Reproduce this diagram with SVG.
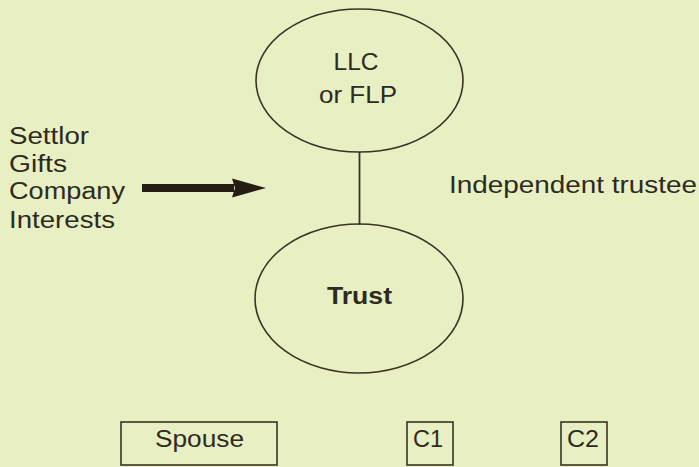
<svg xmlns="http://www.w3.org/2000/svg" width="699" height="467" viewBox="0 0 699 467">
  <defs>
    <style>
      .bg { fill: #e7efc3; }
      .shape { fill: none; stroke: #3a3322; stroke-width: 1.6; }
      .lbl { font-family: "Liberation Sans", Arial, Helvetica, sans-serif; font-size: 23px; fill: #2e2a1f; }
      .bold { font-weight: bold; }
      .mid { text-anchor: middle; }
      .conn { stroke: #3a3322; stroke-width: 1.8; fill: none; }
      .arrow { stroke: #231d14; stroke-width: 8; fill: none; }
    </style>
    <marker id="head" markerUnits="userSpaceOnUse" markerWidth="36" markerHeight="22" refX="2" refY="11" orient="auto">
      <path d="M0,1.5 L34,11 L0,20.5 L3,11 Z" fill="#231d14"/>
    </marker>
  </defs>
  <rect class="bg" x="0" y="0" width="699" height="467"/>

  <g id="connectors">
    <line class="conn" x1="359.5" y1="152" x2="359.5" y2="225"/>
    <line class="arrow" x1="142" y1="188" x2="234" y2="188" marker-end="url(#head)"/>
  </g>

  <g id="llc">
    <ellipse class="shape" cx="359.5" cy="80.5" rx="103.5" ry="71.5"/>
    <text class="lbl mid" x="356" y="70" textLength="45" lengthAdjust="spacingAndGlyphs">LLC</text>
    <text class="lbl mid" x="358" y="103" textLength="78" lengthAdjust="spacingAndGlyphs">or FLP</text>
  </g>

  <g id="trust">
    <ellipse class="shape" cx="359" cy="298.5" rx="104" ry="74.5"/>
    <text class="lbl bold mid" x="359.5" y="304" textLength="65" lengthAdjust="spacingAndGlyphs">Trust</text>
  </g>

  <g id="settlor">
    <text class="lbl" x="9" y="144" textLength="80" lengthAdjust="spacingAndGlyphs">Settlor</text>
    <text class="lbl" x="9" y="172" textLength="58" lengthAdjust="spacingAndGlyphs">Gifts</text>
    <text class="lbl" x="9" y="199" textLength="116" lengthAdjust="spacingAndGlyphs">Company</text>
    <text class="lbl" x="9" y="228" textLength="106" lengthAdjust="spacingAndGlyphs">Interests</text>
  </g>

  <g id="trustee">
    <text class="lbl" x="449" y="193" textLength="248" lengthAdjust="spacingAndGlyphs">Independent trustee</text>
  </g>

  <g id="spouse">
    <rect class="shape" x="121" y="422" width="156" height="43"/>
    <text class="lbl mid" x="199.5" y="447" textLength="89" lengthAdjust="spacingAndGlyphs">Spouse</text>
  </g>

  <g id="c1">
    <rect class="shape" x="407" y="422" width="46" height="43"/>
    <text class="lbl mid" x="428" y="447" textLength="30" lengthAdjust="spacingAndGlyphs">C1</text>
  </g>

  <g id="c2">
    <rect class="shape" x="561" y="422" width="46" height="43"/>
    <text class="lbl mid" x="583" y="447" textLength="32" lengthAdjust="spacingAndGlyphs">C2</text>
  </g>
</svg>
